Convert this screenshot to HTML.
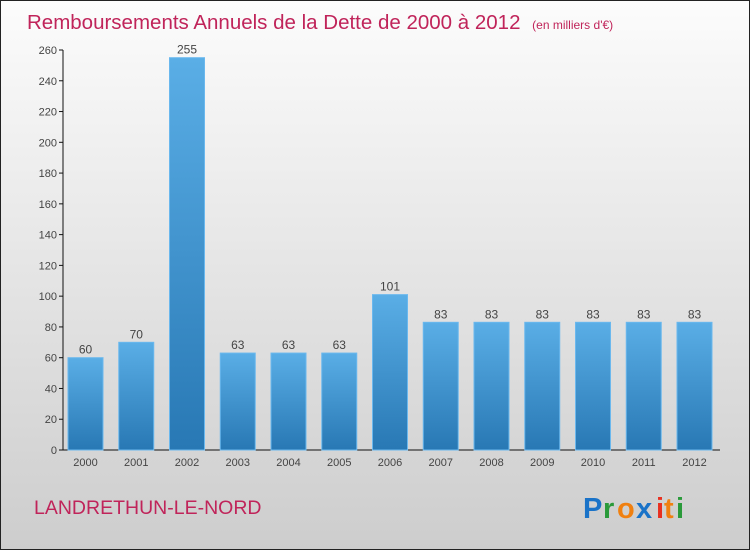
<!DOCTYPE html>
<html><head><meta charset="utf-8"><style>
body{margin:0;}
svg{display:block;font-family:"Liberation Sans",sans-serif;}
</style></head><body>
<svg width="750" height="550" viewBox="0 0 750 550">
<defs>
<linearGradient id="bg" x1="0" y1="0" x2="0" y2="1"><stop offset="0" stop-color="#fcfcfc"/><stop offset="1" stop-color="#cdcdcd"/></linearGradient>
<linearGradient id="bar" x1="0" y1="0" x2="0" y2="1"><stop offset="0" stop-color="#5aaee6"/><stop offset="1" stop-color="#2878b4"/></linearGradient>
</defs>
<rect x="0.5" y="0.5" width="749" height="549" fill="url(#bg)" stroke="#222"/>
<text x="27" y="29" font-size="20.5" fill="#c0245a">Remboursements Annuels de la Dette de 2000 à 2012 <tspan font-size="12" dx="6">(en milliers d'€)</tspan></text>
<g id="axes"></g>
<g id="bars"></g>
<text x="34" y="514" font-size="19.5" fill="#c0245a">LANDRETHUN-LE-NORD</text>
<g font-size="29" font-family="'Liberation Sans',sans-serif" font-weight="bold">
<text x="583" y="518" fill="#1a73c8">P</text><text x="603" y="518" fill="#2a9a3a">r</text><text x="617" y="518" fill="#f08010">o</text><text x="636" y="518" fill="#1a73c8">x</text><text x="656" y="518" fill="#e83020">i</text><text x="664" y="518" fill="#f08010">t</text><text x="676" y="518" fill="#2a9a3a">i</text>
</g>
</svg>
<script>
const categories=["2000","2001","2002","2003","2004","2005","2006","2007","2008","2009","2010","2011","2012"];
const values=[60,70,255,63,63,63,101,83,83,83,83,83,83];
const yTicks=[0,20,40,60,80,100,120,140,160,180,200,220,240,260];
const NS="http://www.w3.org/2000/svg";
const y0=450,yMax=260,pxTop=50;
const y=v=>y0-(v/yMax)*(y0-pxTop);
const x0=68,step=50.75,bw=35;
const x=i=>x0+i*step;
function mk(t,a,p){const e=document.createElementNS(NS,t);for(const k in a)e.setAttribute(k,a[k]);p.appendChild(e);return e;}
const ax=document.getElementById('axes'),bg=document.getElementById('bars');
const yl=mk('line',{x1:63,y1:y(yMax),x2:63,y2:y0,stroke:'#111'},ax);


const xl=mk('line',{x1:63,y1:y0,x2:720,y2:y0,stroke:'#111'},ax);


yTicks.forEach(t=>{
 mk('line',{x1:59,x2:63,y1:y(t),y2:y(t),stroke:'#111'},ax);
 const tx=mk('text',{x:57,y:y(t)+4,'font-size':11,'text-anchor':'end',fill:'#444'},ax);
 tx.textContent=t;
 
 
});
categories.forEach((c,i)=>{
 const r=mk('rect',{x:x(i),y:y(values[i]),width:bw,height:y0-y(values[i]),fill:'url(#bar)',stroke:'#6ab8ee','stroke-width':1},bg);
 
 
 const v=mk('text',{x:x(i)+bw/2,y:y(values[i])-4,'font-size':12,'text-anchor':'middle',fill:'#444'},bg);
 v.textContent=values[i];
 
 
 const l=mk('text',{x:x(i)+bw/2,y:466,'font-size':11,'text-anchor':'middle',fill:'#444'},bg);
 l.textContent=c;
 
 
});
</script>
</body></html>
